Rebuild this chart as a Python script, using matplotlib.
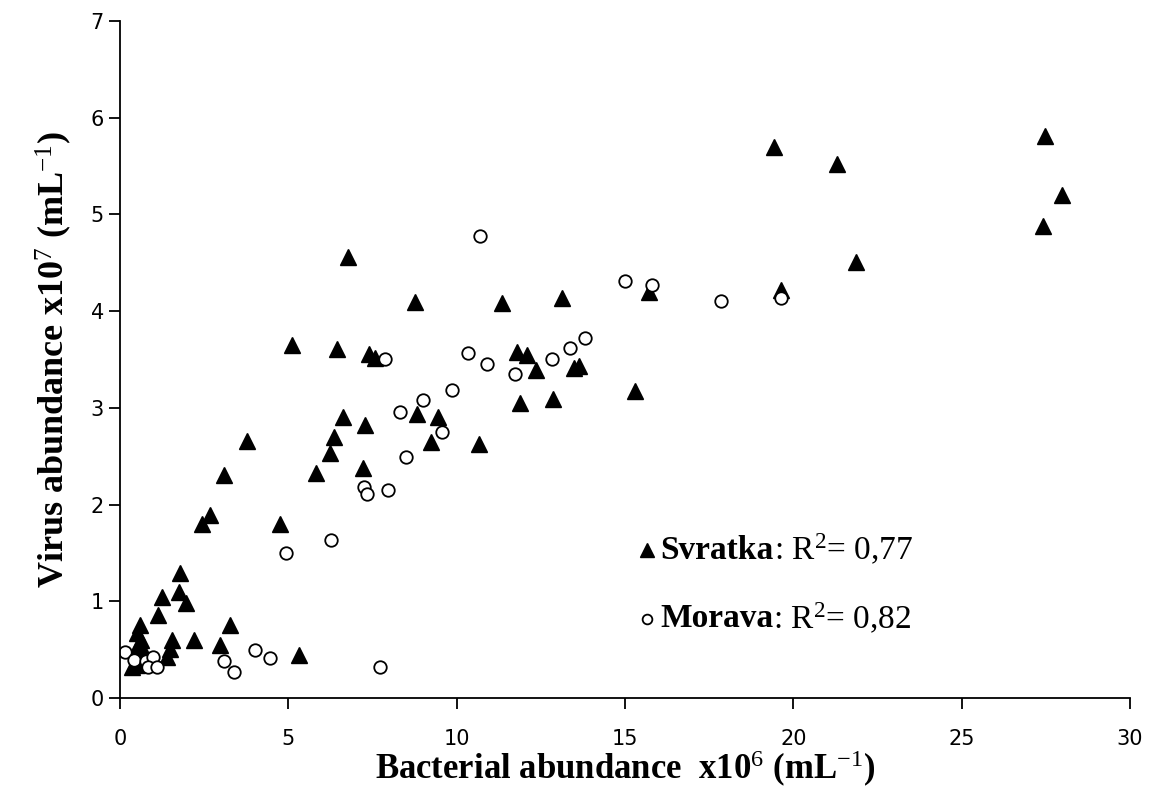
import matplotlib
matplotlib.use("Agg")
import matplotlib.pyplot as plt

# Svratka (filled triangles)
svratka_x = [27.47, 27.98, 27.4, 19.43, 21.3, 21.85, 19.64, 15.7, 13.12, 11.36, 8.76, 6.79,
             5.11, 6.45, 7.39, 7.59, 11.8, 12.08, 12.35, 13.49, 13.64, 11.88, 12.85, 15.3,
             8.83, 9.45, 9.24, 10.66, 6.64, 7.27, 6.35, 6.23, 7.21, 5.82, 3.77, 3.08,
             2.68, 2.43, 4.76, 1.79, 1.24, 1.77, 1.98, 1.14, 3.27, 0.6, 0.5, 0.64,
             2.21, 1.54, 2.98, 1.49, 5.31, 1.39, 0.5, 0.35, 0.7, 0.55]
svratka_y = [5.81, 5.2, 4.88, 5.7, 5.52, 4.51, 4.22, 4.2, 4.14, 4.08, 4.09, 4.56,
             3.65, 3.61, 3.56, 3.52, 3.58, 3.55, 3.39, 3.41, 3.43, 3.05, 3.09, 3.17,
             2.94, 2.91, 2.65, 2.63, 2.91, 2.82, 2.7, 2.53, 2.38, 2.33, 2.66, 2.31,
             1.89, 1.8, 1.8, 1.29, 1.05, 1.1, 0.98, 0.86, 0.76, 0.76, 0.67, 0.6,
             0.6, 0.6, 0.55, 0.51, 0.45, 0.43, 0.34, 0.32, 0.5, 0.55]

# Morava (open circles)
morava_x = [10.71, 15.0, 15.8, 17.86, 19.64, 7.86, 10.34, 10.91, 11.73, 12.83, 13.37, 13.81,
            9.85, 8.99, 8.31, 9.57, 8.51, 7.24, 7.34, 7.95, 6.28, 4.93, 0.15, 0.42,
            0.79, 0.99, 0.84, 1.11, 3.1, 3.39, 4.02, 4.46, 7.74]
morava_y = [4.78, 4.31, 4.27, 4.1, 4.14, 3.51, 3.57, 3.45, 3.35, 3.51, 3.62, 3.72,
            3.18, 3.08, 2.96, 2.75, 2.49, 2.18, 2.11, 2.15, 1.64, 1.5, 0.48, 0.4,
            0.39, 0.43, 0.32, 0.32, 0.38, 0.27, 0.5, 0.42, 0.32]

series_names = ["Svratka", "Morava"]
r2_labels = [": R$^{2}$= 0,77", ": R$^{2}$= 0,82"]

plt.rcParams["mathtext.fontset"] = "custom"
plt.rcParams["mathtext.rm"] = "Liberation Serif"
plt.rcParams["mathtext.bf"] = "Liberation Serif:bold"
plt.rcParams["mathtext.it"] = "Liberation Serif:italic"

fig = plt.figure(figsize=(11.52, 7.98), dpi=100)
ax = fig.add_axes([0.104, 0.125, 0.877, 0.849])

ax.plot(svratka_x, svratka_y, linestyle="none", marker="^", markersize=12,
        color="black", markeredgecolor="black")
ax.plot(morava_x, morava_y, linestyle="none", marker="o", markersize=9,
        markerfacecolor="white", markeredgecolor="black", markeredgewidth=1.3)

ax.set_xlim(0, 30)
ax.set_ylim(0, 7)
ax.set_xticks(range(0, 31, 5))
ax.set_yticks(range(0, 8))
for s in ["top", "right"]:
    ax.spines[s].set_visible(False)
ax.spines["left"].set_linewidth(1.3)
ax.spines["bottom"].set_linewidth(1.3)
ax.tick_params(direction="out", length=8, width=1.3, labelsize=15)
ax.tick_params(axis="x", pad=14)

ax.set_xlabel(r"Bacterial abundance  x10$^{6}$ (mL$^{-1}$)", fontsize=25,
              fontweight="bold", family="Liberation Serif", labelpad=0)
ax.set_ylabel(r"Virus abundance x10$^{7}$ (mL$^{-1}$)", fontsize=26,
              fontweight="bold", family="Liberation Serif", labelpad=12)

# legend-like annotation
leg_y = [1.53, 0.82]
ax.plot([15.65], [leg_y[0]], linestyle="none", marker="^", markersize=10, color="black")
ax.plot([15.65], [leg_y[1]], linestyle="none", marker="o", markersize=7,
        markerfacecolor="white", markeredgecolor="black", markeredgewidth=1.3)
for name, r2, y in zip(series_names, r2_labels, leg_y):
    t = ax.text(16.05, y, name, fontsize=24, fontweight="bold",
                family="Liberation Serif", va="center")
    ax.annotate(r2, xy=(1, 0.5), xycoords=t, va="center", ha="left",
                fontsize=24, family="Liberation Serif")

fig.savefig("out.png", dpi=100, facecolor="white")
